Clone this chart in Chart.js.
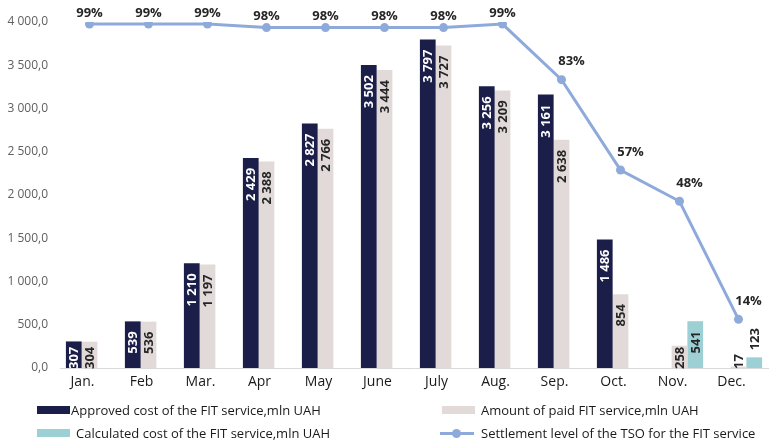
<!DOCTYPE html>
<html>
<head>
<meta charset="utf-8">
<script src="https://cdn.jsdelivr.net/npm/chart.js@4"></script>
<style>
  body { margin:0; background:#fff; }
  #wrap { position:relative; width:773px; height:444px; font-family:"Open Sans", sans-serif; }
  .lg { position:absolute; font-size:13px; color:#1a1a1a; white-space:nowrap; line-height:16px; }
  .sw { position:absolute; width:33px; height:8px; }
  .ln { position:absolute; width:34px; height:3px; background:#8eaadb; }
  .dot { position:absolute; width:9px; height:9px; border-radius:50%; background:#8eaadb; }
</style>
</head>
<body>
<div id="wrap">
  <canvas id="chart" width="773" height="444"></canvas>
  <div class="sw" style="left:37px;top:406px;background:#1b1e48"></div>
  <div class="lg" style="left:71px;top:402px">Approved cost of the FIT service,mln UAH</div>
  <div class="sw" style="left:442px;top:406px;background:#e2dad9"></div>
  <div class="lg" style="left:481px;top:402px">Amount of paid FIT service,mln UAH</div>
  <div class="sw" style="left:37px;top:429px;background:#9dd0d4"></div>
  <div class="lg" style="left:76px;top:425px">Calculated cost of the FIT service,mln UAH</div>
  <div class="ln" style="left:440px;top:432px"></div>
  <div class="dot" style="left:452px;top:429px"></div>
  <div class="lg" style="left:481px;top:425px">Settlement level of the TSO for the FIT service</div>
</div>
<script>
// months on the x axis
const months = ['Jan.','Feb','Mar.','Apr','May','June','July','Aug.','Sep.','Oct.','Nov.','Dec.'];

// mln UAH
const approved   = [307, 539, 1210, 2429, 2827, 3502, 3797, 3256, 3161, 1486, null, null];
const paid       = [304, 536, 1197, 2388, 2766, 3444, 3727, 3209, 2638, 854, 258, 17];
const calculated = [null, null, null, null, null, null, null, null, null, null, 541, 123];

// settlement level, %
const settlement = [99, 99, 99, 98, 98, 98, 98, 99, 83, 57, 48, 14];

const yTicks = { min: 0, max: 4000, step: 500 };

const navy = '#1b1e48', beige = '#e2dad9', teal = '#9dd0d4', blue = '#8eaadb';

function fmtAxis(v) {
  return v.toFixed(1).replace('.', ',').replace(/\B(?=(\d{3})+(?!\d))/g, ' ');
}
function fmtInt(v) {
  return String(v).replace(/\B(?=(\d{3})+(?!\d))/g, ' ');
}

// rotated value labels inside the bars, % labels above the line points
const valueLabels = {
  id: 'valueLabels',
  afterDatasetsDraw(chart) {
    const ctx = chart.ctx;
    chart.data.datasets.forEach((ds, i) => {
      const meta = chart.getDatasetMeta(i);
      meta.data.forEach((el, j) => {
        const v = ds.data[j];
        if (v == null) return;
        ctx.save();
        ctx.font = 'bold 13px "Open Sans"';
        if (ds.type === 'line') {
          ctx.fillStyle = '#262626';
          ctx.textAlign = 'center';
          ctx.textBaseline = 'middle';
          const dx = v < 90 ? 10 : 0, dy = v < 90 ? -18 : -11;
          ctx.fillText(v + '%', el.x + dx, el.y + dy);
        } else {
          const txt = fmtInt(v);
          const w = ctx.measureText(txt).width;
          const top = el.y, base = el.base;
          let end;
          if (base - top >= w + 11) end = top + 10;
          else if (ds.data === calculated) end = top - 7 - w;
          else end = base - w + 1;
          ctx.translate(el.x, end + w / 2);
          ctx.rotate(-Math.PI / 2);
          ctx.textAlign = 'center';
          ctx.textBaseline = 'middle';
          ctx.fillStyle = ds.data === approved ? '#ffffff' : '#262626';
          ctx.fillText(txt, 0, 1);
        }
        ctx.restore();
      });
    });
  }
};

new Chart(document.getElementById('chart').getContext('2d'), {
  data: {
    labels: months,
    datasets: [
      { type: 'line', label: 'Settlement level of the TSO for the FIT service', data: settlement,
        yAxisID: 'y1', borderColor: blue, backgroundColor: blue, borderWidth: 3,
        pointRadius: 4.5, pointBackgroundColor: blue, pointBorderWidth: 0, tension: 0, order: 0 },
      { type: 'bar', label: 'Approved cost of the FIT service,mln UAH', data: approved,
        backgroundColor: navy, order: 1 },
      { type: 'bar', label: 'Amount of paid FIT service,mln UAH', data: paid,
        backgroundColor: beige, order: 1 },
      { type: 'bar', label: 'Calculated cost of the FIT service,mln UAH', data: calculated,
        backgroundColor: teal, order: 1 }
    ]
  },
  options: {
    responsive: false,
    animation: false,
    layout: { padding: { top: 22, right: 5 } },
    datasets: { bar: { barPercentage: 1, categoryPercentage: 0.8, borderWidth: 0 } },
    plugins: { legend: { display: false }, tooltip: { enabled: false } },
    scales: {
      x: {
        grid: { display: false, drawTicks: false, tickLength: 0 },
        border: { display: true, color: '#d9d9d9', width: 1 },
        ticks: { color: '#1a1a1a', font: { family: 'Open Sans', size: 14 }, padding: 6, labelOffset: -7, maxRotation: 0, autoSkip: false },
        afterFit: s => { s.height = 76; }
      },
      y: {
        min: yTicks.min, max: yTicks.max,
        grid: { display: false, drawTicks: false, tickLength: 0 },
        border: { display: false },
        ticks: { stepSize: yTicks.step, color: '#606060', font: { family: 'Open Sans', size: 12 }, padding: 12, callback: v => fmtAxis(v) },
        afterFit: s => { s.width = 60; }
      },
      y1: { display: false, min: 0, max: 99.6 }
    }
  },
  plugins: [valueLabels]
});
</script>
</body>
</html>
